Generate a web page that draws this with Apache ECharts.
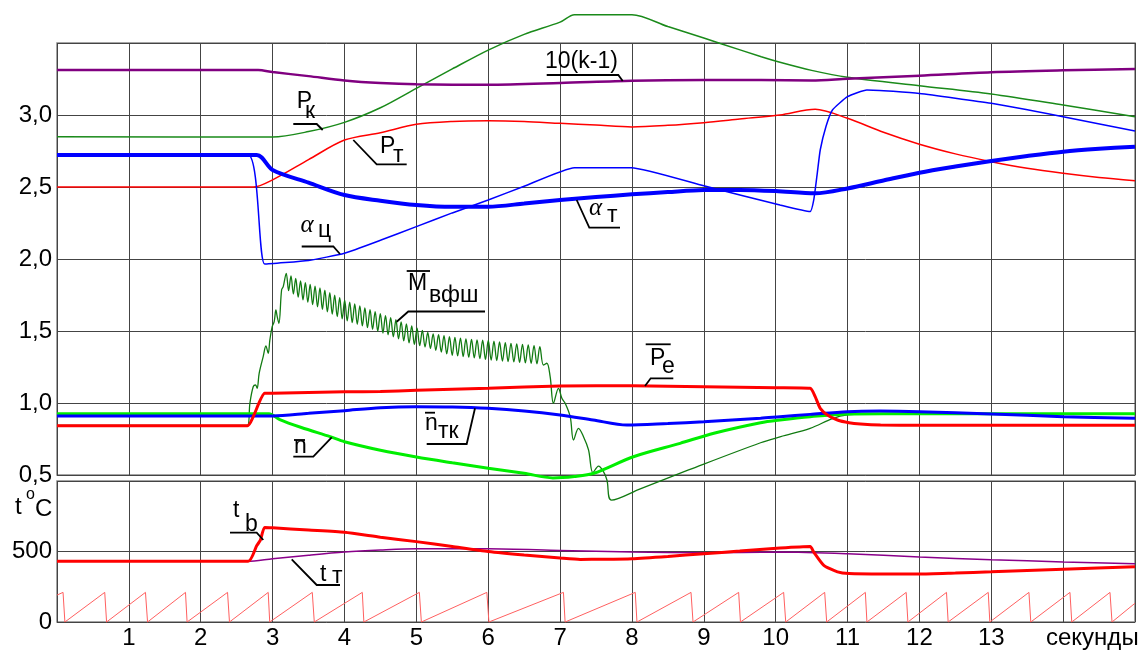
<!DOCTYPE html>
<html><head><meta charset="utf-8">
<script src="https://cdn.jsdelivr.net/npm/echarts@6/dist/echarts.min.js"></script>
<style>html,body{margin:0;padding:0;background:#fff}#c{width:1146px;height:650px}</style>
</head><body><div id="c"></div>
<script>
// ---------- data (time in seconds, value) ----------
const xTicks = [1,2,3,4,5,6,7,8,9,10,11,12,13];
const kLine = [[0,3.312],[2.8,3.312],[3.0,3.298],[3.5,3.27],[4.0,3.24],[4.5,3.222],[5.0,3.213],[6.0,3.21],[7.0,3.222],[8.0,3.238],[9.0,3.243],[9.8,3.243],[10.5,3.24],[11.0,3.252],[12.0,3.273],[13.0,3.297],[14.0,3.31],[15.0,3.319]];
const pK = [[0,2.849],[3.0,2.847],[3.5,2.885],[4.0,2.949],[4.5,3.05],[5.0,3.185],[5.5,3.32],[6.0,3.451],[6.5,3.56],[7.0,3.645],[7.2,3.697],[8.0,3.697],[8.5,3.614],[9.0,3.535],[9.23,3.497],[9.8,3.405],[10.06,3.366],[10.5,3.31],[11.0,3.262],[12.0,3.203],[13.0,3.146],[14.0,3.069],[15.0,2.988]];
const pT = [[0,2.5],[2.73,2.5],[3.0,2.55],[3.5,2.69],[4.0,2.826],[4.5,2.877],[5.0,2.935],[5.5,2.955],[6.0,2.96],[6.5,2.955],[7.0,2.942],[7.5,2.93],[8.0,2.917],[8.5,2.928],[9.0,2.947],[9.5,2.972],[10.06,3.0],[10.55,3.04],[11.0,2.977],[11.5,2.88],[12.0,2.797],[12.5,2.73],[13.0,2.676],[13.5,2.63],[14.0,2.595],[14.5,2.566],[15.0,2.544]];
const alphaC = [[0,2.722],[2.66,2.722],[2.89,1.965],[3.5,1.99],[4.0,2.04],[4.5,2.13],[5.0,2.225],[5.5,2.32],[6.0,2.41],[6.5,2.505],[7.2,2.634],[7.99,2.634],[9.0,2.508],[10.06,2.375],[10.48,2.329],[10.53,2.41],[10.58,2.6],[10.62,2.757],[10.7,2.92],[10.79,3.035],[11.0,3.127],[11.27,3.174],[12.0,3.15],[13.0,3.081],[14.0,2.988],[15.0,2.889]];
const alphaT = [[0,2.722],[2.78,2.722],[3.0,2.618],[3.5,2.53],[4.0,2.444],[4.5,2.405],[5.0,2.375],[5.5,2.362],[6.0,2.363],[6.5,2.385],[7.0,2.41],[7.5,2.43],[8.0,2.449],[8.5,2.465],[9.0,2.479],[9.5,2.48],[10.0,2.472],[10.55,2.456],[11.0,2.49],[11.5,2.545],[12.0,2.599],[12.5,2.642],[13.0,2.681],[13.5,2.715],[14.0,2.745],[14.5,2.765],[15.0,2.78]];
const mVfsh = [[0,0.845],[2.65,0.845],[2.684,0.998],[2.73,1.113],[2.763,1.125],[2.785,1.102],[2.813,1.206],[2.869,1.322],[2.907,1.396],[2.939,1.345],[2.962,1.438],[2.994,1.53],[3.022,1.565],[3.046,1.646],[3.064,1.6],[3.088,1.553],[3.125,1.785],[3.148,1.808],
[3.190,1.900],[3.223,1.780],[3.256,1.883],[3.289,1.757],[3.322,1.865],[3.356,1.735],[3.389,1.848],[3.423,1.716],[3.456,1.836],[3.490,1.700],[3.523,1.824],[3.557,1.683],[3.591,1.812],[3.625,1.667],[3.659,1.800],[3.693,1.650],[3.727,1.783],[3.762,1.633],[3.796,1.766],[3.830,1.617],[3.864,1.749],[3.899,1.600],[3.934,1.731],[3.968,1.584],[4.003,1.714],[4.038,1.570],[4.073,1.701],[4.108,1.558],[4.143,1.688],[4.178,1.547],[4.214,1.675],[4.249,1.535],[4.284,1.661],[4.320,1.523],[4.356,1.648],[4.391,1.511],[4.427,1.635],[4.463,1.499],[4.499,1.621],[4.535,1.486],[4.571,1.607],[4.607,1.473],[4.643,1.593],[4.680,1.459],[4.716,1.578],[4.752,1.445],[4.789,1.564],[4.825,1.431],[4.862,1.549],[4.899,1.417],[4.936,1.535],[4.973,1.407],[5.010,1.520],[5.047,1.398],[5.084,1.505],[5.121,1.389],[5.159,1.490],[5.196,1.379],[5.234,1.480],[5.271,1.366],[5.309,1.474],[5.347,1.354],[5.385,1.467],[5.423,1.341],[5.461,1.461],[5.499,1.331],[5.537,1.456],[5.575,1.327],[5.614,1.451],[5.652,1.322],[5.690,1.446],[5.729,1.318],[5.768,1.441],[5.806,1.313],[5.845,1.439],[5.884,1.308],[5.923,1.436],[5.962,1.303],[6.001,1.434],[6.041,1.298],[6.080,1.429],[6.119,1.295],[6.158,1.424],[6.198,1.291],[6.238,1.419],[6.277,1.288],[6.317,1.414],[6.357,1.285],[6.397,1.411],[6.437,1.282],[6.477,1.407],[6.517,1.279],[6.557,1.404],[6.597,1.275],[6.638,1.398],[6.678,1.272],[6.719,1.391],
[6.768,1.264],[6.816,1.276],[6.862,1.183],[6.908,0.998],[6.978,1.102],[7.025,1.033],[7.071,0.998],[7.141,0.905],[7.187,0.743],[7.256,0.824],[7.326,0.766],[7.396,0.674],[7.457,0.516],[7.535,0.562],[7.604,0.523],[7.652,0.465],[7.716,0.326],[8.116,0.404],[8.788,0.535],[9.79,0.724],[10.07,0.766],[10.48,0.824],[10.8,0.894],[11.0,0.917],[11.3,0.925],[15,0.925]];
const pE = [[0,0.842],[2.65,0.842],[2.73,0.905],[2.89,1.067],[3.0,1.068],[4.0,1.078],[4.5,1.08],[5.0,1.088],[6.0,1.102],[7.0,1.118],[8.0,1.12],[9.0,1.113],[10.0,1.106],[10.48,1.102],[10.55,1.044],[10.62,0.963],[10.72,0.917],[10.86,0.882],[11.02,0.863],[11.18,0.854],[11.46,0.847],[12.0,0.845],[15.0,0.845]];
const nTK = [[0,0.91],[3.0,0.91],[3.5,0.928],[4.0,0.947],[4.5,0.967],[5.0,0.974],[5.5,0.972],[6.0,0.963],[6.5,0.945],[7.0,0.917],[7.46,0.882],[7.93,0.847],[8.5,0.858],[9.0,0.87],[9.79,0.894],[10.06,0.905],[10.48,0.921],[11.0,0.94],[11.45,0.944],[12.0,0.94],[13.0,0.924],[14.0,0.905],[15.0,0.894]];
const nBar = [[0,0.926],[2.95,0.926],[3.1,0.885],[3.4,0.83],[3.8,0.766],[4.0,0.731],[4.5,0.672],[5.0,0.625],[5.5,0.585],[6.0,0.547],[6.5,0.512],[6.9,0.48],[7.2,0.49],[7.47,0.512],[8.02,0.627],[8.67,0.72],[9.14,0.79],[9.79,0.863],[10.06,0.882],[10.48,0.905],[11.0,0.924],[11.5,0.926],[15.0,0.926]];
const tB = [[0,430],[2.66,430],[2.78,542],[2.83,580],[2.89,671],[3.0,668],[3.5,652],[4.0,636],[4.5,601],[5.0,570],[5.5,535],[6.0,500],[6.5,475],[7.0,454],[7.28,444],[7.6,445],[8.0,449],[8.5,465],[9.0,484],[9.5,503],[10.06,524],[10.48,535],[10.53,496],[10.67,402],[10.86,356],[11.02,344],[11.5,341],[12.0,341],[12.5,348],[13.0,356],[14.0,374],[15.0,391]];
const tT = [[0,430],[2.65,430],[3.0,449],[3.5,474],[4.0,496],[4.5,510],[5.0,519],[6.0,519],[7.0,507],[8.0,496],[9.0,491],[10.06,496],[11.0,484],[12.0,461],[13.0,442],[14.0,426],[15.0,414]];
const saw = [[0,191],[0.084,210],[0.11,0],[0.664,210],[0.69,0],[1.231,210],[1.26,0],[1.788,210],[1.81,0],[2.373,210],[2.4,0],[2.939,210],[2.96,0],[3.552,210],[3.58,0],[4.248,210],[4.27,0],[5.042,210],[5.07,0],[5.981,210],[6.01,0],[7.047,210],[7.07,0],[8.046,210],[8.07,0],[8.822,210],[8.85,0],[9.485,210],[9.51,0],[10.111,210],[10.14,0],[10.682,210],[10.71,0],[11.248,210],[11.27,0],[11.816,210],[11.84,0],[12.377,210],[12.4,0],[12.958,210],[12.98,0],[13.524,210],[13.55,0],[14.095,210],[14.12,0],[14.652,210],[14.68,0],[15.0,133]];

// ---------- chart ----------
const FONT = '"Liberation Sans", Arial, sans-serif';
const chart = echarts.init(document.getElementById('c'), null, {renderer: 'canvas'});
const gridLine = {color: '#444', width: 1};
function xAx(i, labels) {
  return {gridIndex: i, type: 'value', min: 0, max: 15, interval: 1,
    axisLine: {show: false}, axisTick: {show: false},
    axisLabel: {show: labels, margin: 4, fontSize: 24, color: '#000', fontFamily: FONT,
      formatter: v => xTicks.indexOf(v) >= 0 ? String(v) : ''},
    splitLine: {show: true, lineStyle: gridLine}};
}
function ln(name, data, color, width, xi, opts) {
  return Object.assign({name, type: 'line', xAxisIndex: xi, yAxisIndex: xi, data,
    showSymbol: false, symbol: 'none', animation: false, clip: false,
    lineStyle: {color, width}, z: 3}, opts || {});
}
const T = (text, x, y, size) => ({type: 'text', x, y, z: 100,
  style: {text, fontSize: size || 23, fontFamily: FONT, fill: '#000', align: 'left', verticalAlign: 'middle'}});
const TS = (text, x, y, size) => ({type: 'text', x, y, z: 100,
  style: {text, fontSize: size || 25, fontFamily: '"Liberation Serif", "DejaVu Serif", serif', fontStyle: 'italic', fill: '#000', align: 'left', verticalAlign: 'middle'}});
const L = (pts) => ({type: 'polyline', z: 100, shape: {points: pts}, style: {stroke: '#000', lineWidth: 1.8, fill: null}});

const graphics = [
  T('10(k-1)', 545, 61.5), L([[546.7,75],[618.3,75],[622.7,81]]),
  T('P', 296.7, 101.5), T('к', 305, 112), L([[293.3,124],[316.7,124],[322.7,130]]),
  T('P', 380, 146.5), T('т', 393, 155.5), L([[353.3,140],[376.7,164.3],[406.7,164.3]]),
  TS('α', 300.5, 225), T('ц', 318, 230.5), L([[301.7,246.5],[333.3,246.5],[340,254]]),
  TS('α', 589, 208.5), T('т', 607, 216), L([[576.7,200],[589.3,227.7],[620,227.7]]),
  L([[406.7,271],[430,271]]), T('M', 408, 284), T('вфш', 429, 296), L([[396.7,321.7],[408.3,311.5],[485,311.5]]),
  L([[645.7,344.3],[670.7,344.3]]), T('P', 650, 358.5), T('e', 662, 367), L([[645,386],[650.7,378.3],[673.3,378.3]]),
  L([[425,412.7],[435,412.7]]), T('n', 425, 424), T('тк', 438, 431.5), L([[475,408.3],[466.7,444],[426.7,444]]),
  L([[294,440],[305,440]]), T('n', 294, 447), L([[293.3,456.7],[313.3,456.7],[331.7,437.3]]),
  T('t', 233, 511), T('b', 245, 524.5), L([[230,532.7],[256.7,532.7],[263.3,540]]),
  T('t', 320, 575), T('т', 332, 577), L([[291.7,559.3],[316.7,585],[340,585]]),
  T('t', 15, 507.5, 24), T('o', 26, 495, 16), T('C', 35, 509.5, 24),
  T('секунды', 1046, 638, 24)
];

chart.setOption({
  animation: false,
  backgroundColor: '#fff',
  grid: [
    {left: 57, top: 43, width: 1078, height: 432, show: true, borderColor: '#888', borderWidth: 1.5},
    {left: 57, top: 481, width: 1078, height: 143, show: true, borderColor: '#888', borderWidth: 1.5}
  ],
  xAxis: [xAx(0, false), xAx(1, true)],
  yAxis: [
    {gridIndex: 0, type: 'value', min: 0.5, max: 3.5, interval: 0.5,
     axisLine: {show: false}, axisTick: {show: false},
     axisLabel: {margin: 5, fontSize: 24, color: '#000', fontFamily: FONT,
       formatter: v => v > 3.4 ? '' : v.toFixed(1).replace('.', ',')},
     splitLine: {show: true, lineStyle: gridLine}},
    {gridIndex: 1, type: 'value', min: 0, max: 1000, interval: 500,
     axisLine: {show: false}, axisTick: {show: false},
     axisLabel: {margin: 5, fontSize: 24, color: '#000', fontFamily: FONT,
       formatter: v => v > 900 ? '' : String(v)},
     splitLine: {show: true, lineStyle: gridLine}}
  ],
  series: [
    ln('Pк', pK, '#1a8a1a', 1.5, 0, {smooth: 0.3}),
    ln('Pт', pT, '#ff0000', 1.5, 0, {smooth: 0.3}),
    ln('αц', alphaC, '#0000ff', 1.5, 0, {smooth: 0.15}),
    ln('αт', alphaT, '#0000ff', 4, 0, {smooth: 0.3}),
    ln('10(k-1)', kLine, '#800080', 2.5, 0, {smooth: 0.3}),
    ln('Mвфш', mVfsh, '#117a11', 1.3, 0, {smooth: 0.35}),
    ln('n', nBar, '#00ee00', 3, 0, {smooth: 0.3}),
    ln('nтк', nTK, '#0000ff', 3, 0, {smooth: 0.3}),
    ln('Pe', pE, '#ff0000', 3, 0, {smooth: 0.2}),
    ln('saw', saw, '#ff6060', 1, 1, {}),
    ln('tт', tT, '#8a008a', 1.5, 1, {smooth: 0.3}),
    ln('tb', tB, '#ff0000', 3, 1, {smooth: 0.2})
  ],
  graphic: graphics
});
</script></body></html>
